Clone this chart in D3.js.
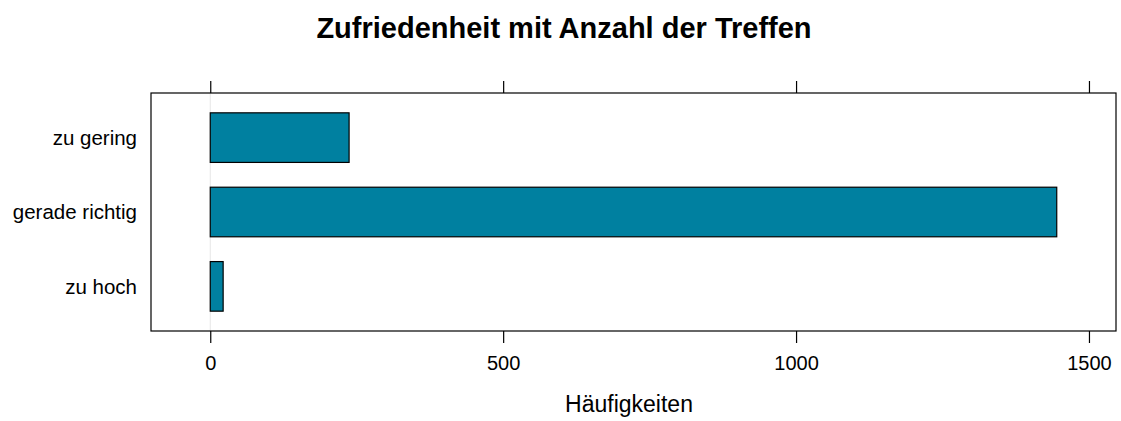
<!DOCTYPE html>
<html>
<head>
<meta charset="utf-8">
<script src="https://cdn.jsdelivr.net/npm/d3@7"></script>
<style>
  body { margin: 0; background: #fff; }
  svg text { font-family: "Liberation Sans", Arial, sans-serif; fill: #000; }
</style>
</head>
<body>
<svg id="chart" width="1121" height="421"></svg>
<script>
// Data
const categories = ['zu gering', 'gerade richtig', 'zu hoch'];
const counts = [237, 1445, 22];
const xTicks = [0, 500, 1000, 1500];

const svg = d3.select('#chart');
const panel = { left: 151, right: 1116, top: 93, bottom: 331 };

// lattice-style padding of 7% around the data range
const maxVal = d3.max(counts);
const x = d3.scaleLinear()
  .domain([-0.07 * maxVal, 1.07 * maxVal])
  .range([panel.left, panel.right]);

const y = d3.scalePoint()
  .domain(categories)
  .range([panel.top, panel.bottom])
  .padding(0.6);

const barH = y.step() * 2 / 3;

// Title
svg.append('text')
  .attr('x', 564).attr('y', 38)
  .attr('text-anchor', 'middle')
  .style('font-size', '29px')
  .style('font-weight', 'bold')
  .text('Zufriedenheit mit Anzahl der Treffen');

// Reference line at origin
svg.append('line')
  .attr('x1', x(0)).attr('x2', x(0))
  .attr('y1', panel.top).attr('y2', panel.bottom)
  .attr('stroke', '#e6e6e6').attr('stroke-width', 1);

// Bars
svg.append('g')
  .selectAll('rect')
  .data(counts)
  .enter()
  .append('rect')
  .attr('x', x(0))
  .attr('y', (d, i) => y(categories[i]) - barH / 2)
  .attr('width', d => x(d) - x(0))
  .attr('height', barH)
  .attr('fill', '#0080a0')
  .attr('stroke', '#000')
  .attr('stroke-width', 1.2);

// Panel border
svg.append('rect')
  .attr('x', panel.left).attr('y', panel.top)
  .attr('width', panel.right - panel.left)
  .attr('height', panel.bottom - panel.top)
  .attr('fill', 'none')
  .attr('stroke', '#000')
  .attr('stroke-width', 1.2);

// Axes (top ticks only, bottom ticks with labels)
const bottomAxis = d3.axisBottom(x).tickValues(xTicks).tickSize(12).tickPadding(8)
  .tickFormat(d3.format('d'));
const topAxis = d3.axisTop(x).tickValues(xTicks).tickSize(12).tickFormat('');

const gb = svg.append('g')
  .attr('transform', `translate(0,${panel.bottom})`)
  .call(bottomAxis);
const gt = svg.append('g')
  .attr('transform', `translate(0,${panel.top})`)
  .call(topAxis);

[gb, gt].forEach(g => {
  g.select('.domain').remove();
  g.selectAll('.tick line').attr('stroke', '#000').attr('stroke-width', 1.2);
  g.selectAll('.tick text')
    .attr('dy', null)
    .attr('y', 370 - panel.bottom)
    .style('font-size', '20px')
    .style('font-family', '"Liberation Sans", Arial, sans-serif')
    .attr('fill', '#000');
});

// Category labels
svg.append('g')
  .selectAll('text')
  .data(categories)
  .enter()
  .append('text')
  .attr('x', 137)
  .attr('y', d => y(d))
  .attr('dy', '0.35em')
  .attr('text-anchor', 'end')
  .style('font-size', '20.5px')
  .text(d => d);

// X axis title
svg.append('text')
  .attr('x', 629)
  .attr('y', 412)
  .attr('text-anchor', 'middle')
  .style('font-size', '23px')
  .text('Häufigkeiten');
</script>
</body>
</html>
